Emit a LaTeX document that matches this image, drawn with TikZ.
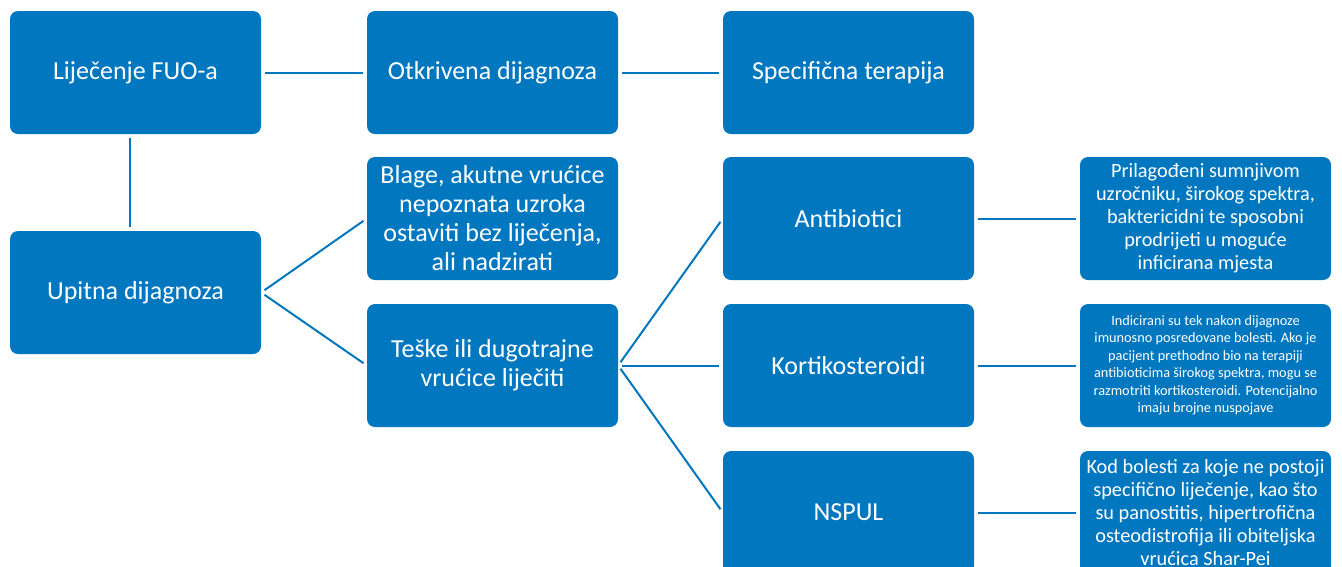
\documentclass[tikz,border=0pt]{standalone}
\usepackage{fontspec}
\setmainfont{Carlito}
\usetikzlibrary{positioning}
\definecolor{boxblue}{RGB}{0,119,190}

\begin{document}
\begin{tikzpicture}[x=1pt,y=-1pt,
    box/.style={draw=none,fill=boxblue,rounded corners=8pt,text=white,
      minimum width=251pt,minimum height=123pt,align=center,inner sep=0pt,
      font=\fontsize{26}{29}\selectfont},
    notebox/.style={box,font=\fontsize{20.3}{23}\selectfont},
    tinybox/.style={box,font=\fontsize{14.3}{17.5}\selectfont},
    link/.style={draw=boxblue,line width=2pt,shorten <=4pt,shorten >=4pt}]
    \useasboundingbox (0,0) rectangle (1342,566);
    \clip (0,0) rectangle (1342,566);

    % First column
    \node[box] (fuo) at (135.5,72.5) {Liječenje FUO-a};
    \node[box] (upitna) at (135.5,292.5) {Upitna dijagnoza};

    % Second column
    \node[box] (otkrivena) at (492.5,72.5) {Otkrivena dijagnoza};
    \node[box] (blage) at (492.5,218.5) {Blage, akutne vrućice\\nepoznata uzroka\\ostaviti bez liječenja,\\ali nadzirati};
    \node[box] (teske) at (492.5,365.5) {Teške ili dugotrajne\\vrućice liječiti};

    % Third column
    \node[box] (specificna) at (848.5,72.5) {Specifična terapija};
    \node[box] (antibiotici) at (848.5,218.5) {Antibiotici};
    \node[box] (kortiko) at (848.5,365.5) {Kortikosteroidi};
    \node[box] (nspul) at (848.5,512.5) {NSPUL};

    % Notes
    \node[notebox] (antinote) at (1205.5,218.5) {Prilagođeni sumnjivom\\uzročniku, širokog spektra,\\baktericidni te sposobni\\prodrijeti u moguće\\inficirana mjesta};
    \node[tinybox] (kortinote) at (1205.5,365.5) {Indicirani su tek nakon dijagnoze\\imunosno posredovane bolesti. Ako je\\pacijent prethodno bio na terapiji\\antibioticima širokog spektra, mogu se\\razmotriti kortikosteroidi. Potencijalno\\imaju brojne nuspojave};
    \node[notebox] (nspulnote) at (1205.5,512.5) {Kod bolesti za koje ne postoji\\specifično liječenje, kao što\\su panostitis, hipertrofična\\osteodistrofija ili obiteljska\\vrućica Shar-Pei};

    % Connectors
    \draw[link] (fuo) -- (otkrivena);
    \draw[link] (otkrivena) -- (specificna);
    \draw[link] ([xshift=-6pt]fuo.south) -- ([xshift=-6pt]upitna.north);
    \draw[link] (upitna.east) -- (blage.west);
    \draw[link] (upitna.east) -- (teske.west);
    \draw[link] (teske.east) -- (antibiotici.west);
    \draw[link] (teske.east) -- (kortiko.west);
    \draw[link] (teske.east) -- (nspul.west);
    \draw[link] (antibiotici) -- (antinote);
    \draw[link] (kortiko) -- (kortinote);
    \draw[link] (nspul) -- (nspulnote);
  \end{tikzpicture}
\end{document}
